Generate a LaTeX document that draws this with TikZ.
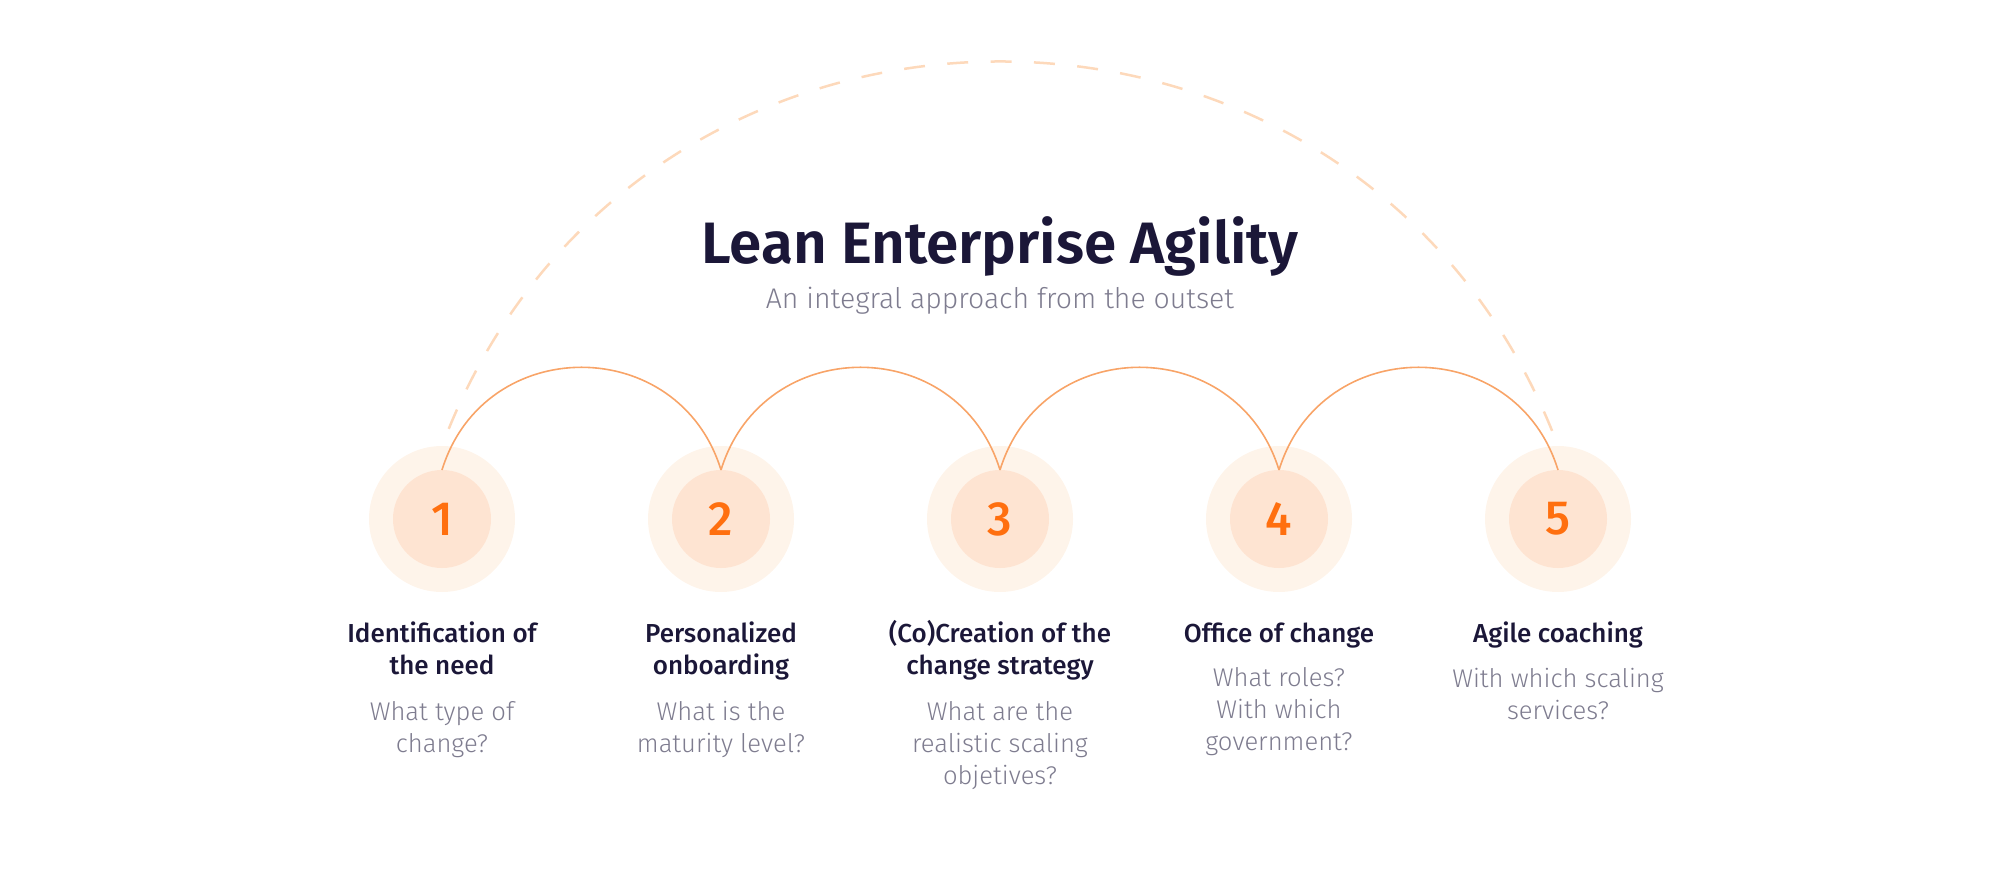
\documentclass[tikz,border=0pt]{standalone}
\usepackage{fontspec}
\setmainfont{Fira Sans}
\IfFontExistsTF{Fira Sans Light}{\newfontfamily\thinfont{Fira Sans Light}}{\newfontfamily\thinfont{Fira Sans}}
\IfFontExistsTF{Fira Sans Medium}{\newfontfamily\midfont{Fira Sans Medium}}{\newfontfamily\midfont{Fira Sans}}
\IfFontExistsTF{Fira Sans SemiBold}{\newfontfamily\semifont{Fira Sans SemiBold}}{\newfontfamily\semifont{Fira Sans Bold}}
\usetikzlibrary{positioning}

\definecolor{ink}{HTML}{1B1738}
\definecolor{mist}{HTML}{7E7C8F}
\definecolor{peach}{HTML}{FEF4EA}
\definecolor{apricot}{HTML}{FEE4D2}
\definecolor{flame}{HTML}{FF6F0F}
\definecolor{wire}{HTML}{F8A468}
\definecolor{dashline}{HTML}{FDD9BB}

\begin{document}
\begin{tikzpicture}[x=0.5pt, y=0.5pt,
    halo/.style={circle, fill=peach, minimum size=73pt, inner sep=0pt, outer sep=0pt},
    core/.style={circle, fill=apricot, minimum size=49pt, inner sep=0pt, outer sep=0pt,
        text=flame, font=\midfont\fontsize{24}{24}\selectfont},
    head/.style={align=center, text=ink, inner sep=0pt, anchor=base,
        font=\midfont\fontsize{13}{16}\selectfont},
    ask/.style={align=center, text=mist, inner sep=0pt, anchor=base,
        font=\thinfont\fontsize{12.8}{16}\selectfont},
    hop/.style={wire, line width=0.8pt, out=72.9, in=107.1, looseness=1.317}]
    \useasboundingbox (0,0) rectangle (2000,880);

    % Steps
    \foreach \i [count=\k from 0] in {1,...,5} {
        \node[halo] (c\i) at (442+279*\k, 361) {};
        \node[core] (n\i) at (c\i) {\i};
    }

    % Outer dashed arc
    \draw[dashline, line width=1.25pt, dash pattern=on 10.5pt off 11.2pt, dash phase=12.5pt]
        (c1.north) to[out=69.35, in=110.65, looseness=1.259] (c5.north);

    % Hops between steps
    \foreach \a/\b in {1/2, 2/3, 3/4, 4/5}
        \draw[hop] (n\a.north) to (n\b.north);

    % Title
    \node[text=ink, anchor=base, font=\semifont\fontsize{29.2}{30}\selectfont] (title) at (1000,617) {Lean Enterprise Agility};
    \node[text=mist, anchor=base, font=\thinfont\fontsize{14.2}{15}\selectfont] (subtitle) at (1000,572) {An integral approach from the outset};

    % Labels (anchored at the last line)
    \node[head] (h1) at (442,206) {Identification of\\the need};
    \node[head] (h2) at (721,206) {Personalized\\onboarding};
    \node[head] (h3) at (1000,206) {(Co)Creation of the\\change strategy};
    \node[head] (h4) at (1279,238) {Office of change};
    \node[head] (h5) at (1558,238) {Agile coaching};

    \node[ask] (q1) at (442,128) {What type of\\change?};
    \node[ask] (q2) at (721,128) {What is the\\maturity level?};
    \node[ask] (q3) at (1000,96) {What are the\\realistic scaling\\objetives?};
    \node[ask] (q4) at (1279,130) {What roles?\\With which\\government?};
    \node[ask] (q5) at (1558,161) {With which scaling\\services?};
\end{tikzpicture}
\end{document}
